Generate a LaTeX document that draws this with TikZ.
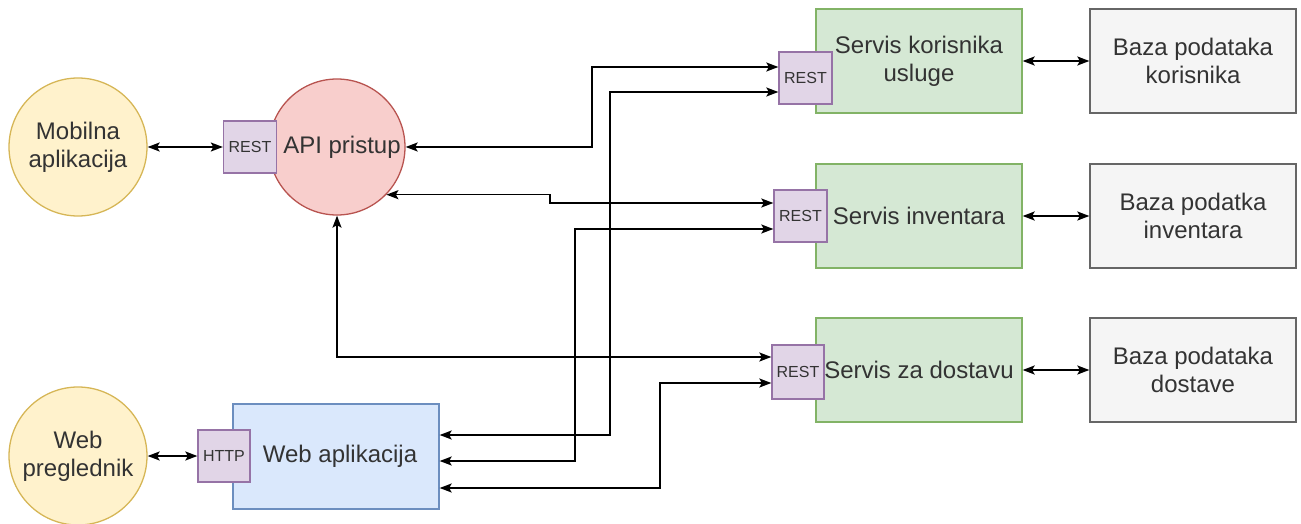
\documentclass[tikz,border=0pt]{standalone}
\usepackage{fontspec}
\setmainfont{Liberation Sans}
\usetikzlibrary{arrows.meta,calc}
\definecolor{yfill}{HTML}{FFF2CC}\definecolor{ydraw}{HTML}{D6B656}
\definecolor{rfill}{HTML}{F8CECC}\definecolor{rdraw}{HTML}{B85450}
\definecolor{pfill}{HTML}{E1D5E7}\definecolor{pdraw}{HTML}{9673A6}
\definecolor{gfill}{HTML}{D5E8D4}\definecolor{gdraw}{HTML}{82B366}
\definecolor{bfill}{HTML}{DAE8FC}\definecolor{bdraw}{HTML}{6C8EBF}
\definecolor{kfill}{HTML}{F5F5F5}\definecolor{kdraw}{HTML}{666666}
\definecolor{txt}{HTML}{333333}
\newcommand\bigtxt{\fontsize{24}{28}\selectfont}
\newcommand\smalltxt{\fontsize{16}{19}\selectfont}
\begin{document}
\begin{tikzpicture}[x=1pt,y=-1pt,
  every node/.style={text=txt, inner sep=0pt, align=center},
  shapeline/.style={line width=1.3pt},
  usercircle/.style={circle, shapeline, draw=ydraw, fill=yfill, minimum size=138pt, font=\bigtxt},
  apicircle/.style={circle, shapeline, draw=rdraw, fill=rfill, minimum size=136pt, font=\bigtxt},
  port/.style={rectangle, shapeline, draw=pdraw, fill=pfill, minimum width=53pt, minimum height=52pt, font=\smalltxt},
  svcbox/.style={rectangle, shapeline, draw=gdraw, fill=gfill, minimum width=206pt, minimum height=104pt, font=\bigtxt},
  dbbox/.style={rectangle, shapeline, draw=kdraw, fill=kfill, minimum width=206pt, minimum height=104pt, font=\bigtxt},
  appbox/.style={rectangle, shapeline, draw=bdraw, fill=bfill, minimum width=206pt, minimum height=105pt, font=\bigtxt},
  conn/.style={line width=1.6pt, black, {Stealth[length=12pt,width=9pt,inset=2.5pt]}-{Stealth[length=12pt,width=9pt,inset=2.5pt]}}
]
\useasboundingbox (0,0) rectangle (1301,524);

% left circles
\node[usercircle] (mob) at (78,147) {Mobilna\\aplikacija};
\node[usercircle] (web) at (78,456) {Web\\preglednik};

% API
\node[apicircle] (api) at (337,147) {\hspace*{10pt}API pristup};
\node[port] (rest0) at (250,147) {REST};

% web app
\node[appbox] (webapp) at (336,456.5) {\hspace*{8pt}Web aplikacija};
\node[port, minimum width=52pt] (http) at (224,456) {HTTP};

% services
\node[svcbox] (s1) at (919,61) {Servis korisnika\\usluge};
\node[svcbox] (s2) at (919,216) {Servis inventara};
\node[svcbox] (s3) at (919,370) {Servis za dostavu};
\node[port] (rest1) at (805.5,78) {REST};
\node[port] (rest2) at (800.5,216) {REST};
\node[port, minimum width=52pt, minimum height=54pt] (rest3) at (798,372) {REST};

% databases
\node[dbbox] (db1) at (1193,61) {Baza podataka\\korisnika};
\node[dbbox] (db2) at (1193,216) {Baza podatka\\inventara};
\node[dbbox] (db3) at (1193,370) {Baza podataka\\dostave};

% bend columns and ports
\coordinate (xA) at (592,0);
\coordinate (xB) at (610,0);
\coordinate (xC) at (550,0);
\coordinate (xD) at (575,0);
\coordinate (xF) at (660,0);
\coordinate (r1a) at ($(rest1.west)+(0,-11)$);
\coordinate (r1b) at ($(rest1.west)+(0,14)$);
\coordinate (r2a) at ($(rest2.west)+(0,-13)$);
\coordinate (r2b) at ($(rest2.west)+(0,13)$);
\coordinate (r3a) at ($(rest3.west)+(0,-15)$);
\coordinate (r3b) at ($(rest3.west)+(0,11)$);
\coordinate (wa1) at ($(webapp.east)+(0,-21.5)$);
\coordinate (wa2) at ($(webapp.east)+(0,4.5)$);
\coordinate (wa3) at ($(webapp.east)+(0,31.5)$);
\coordinate (apiC) at (api.-44.9);

% connectors
\draw[conn] (mob.east) -- (rest0.west);
\draw[conn] (web.east) -- (http.west);
\draw[conn] (s1.east) -- (db1.west);
\draw[conn] (s2.east) -- (db2.west);
\draw[conn] (s3.east) -- (db3.west);

\draw[conn] (api.east) -- (api.east -| xA) |- (r1a);
\draw[conn] (wa1) -- (wa1 -| xB) |- (r1b);
\draw[conn] (apiC) -- (apiC -| xC) -- (xC |- r2a) -- (r2a);
\draw[conn] (wa2) -- (wa2 -| xD) |- (r2b);
\draw[conn] (api.south) |- (r3a);
\draw[conn] (wa3) -- (wa3 -| xF) |- (r3b);
\end{tikzpicture}
\end{document}
